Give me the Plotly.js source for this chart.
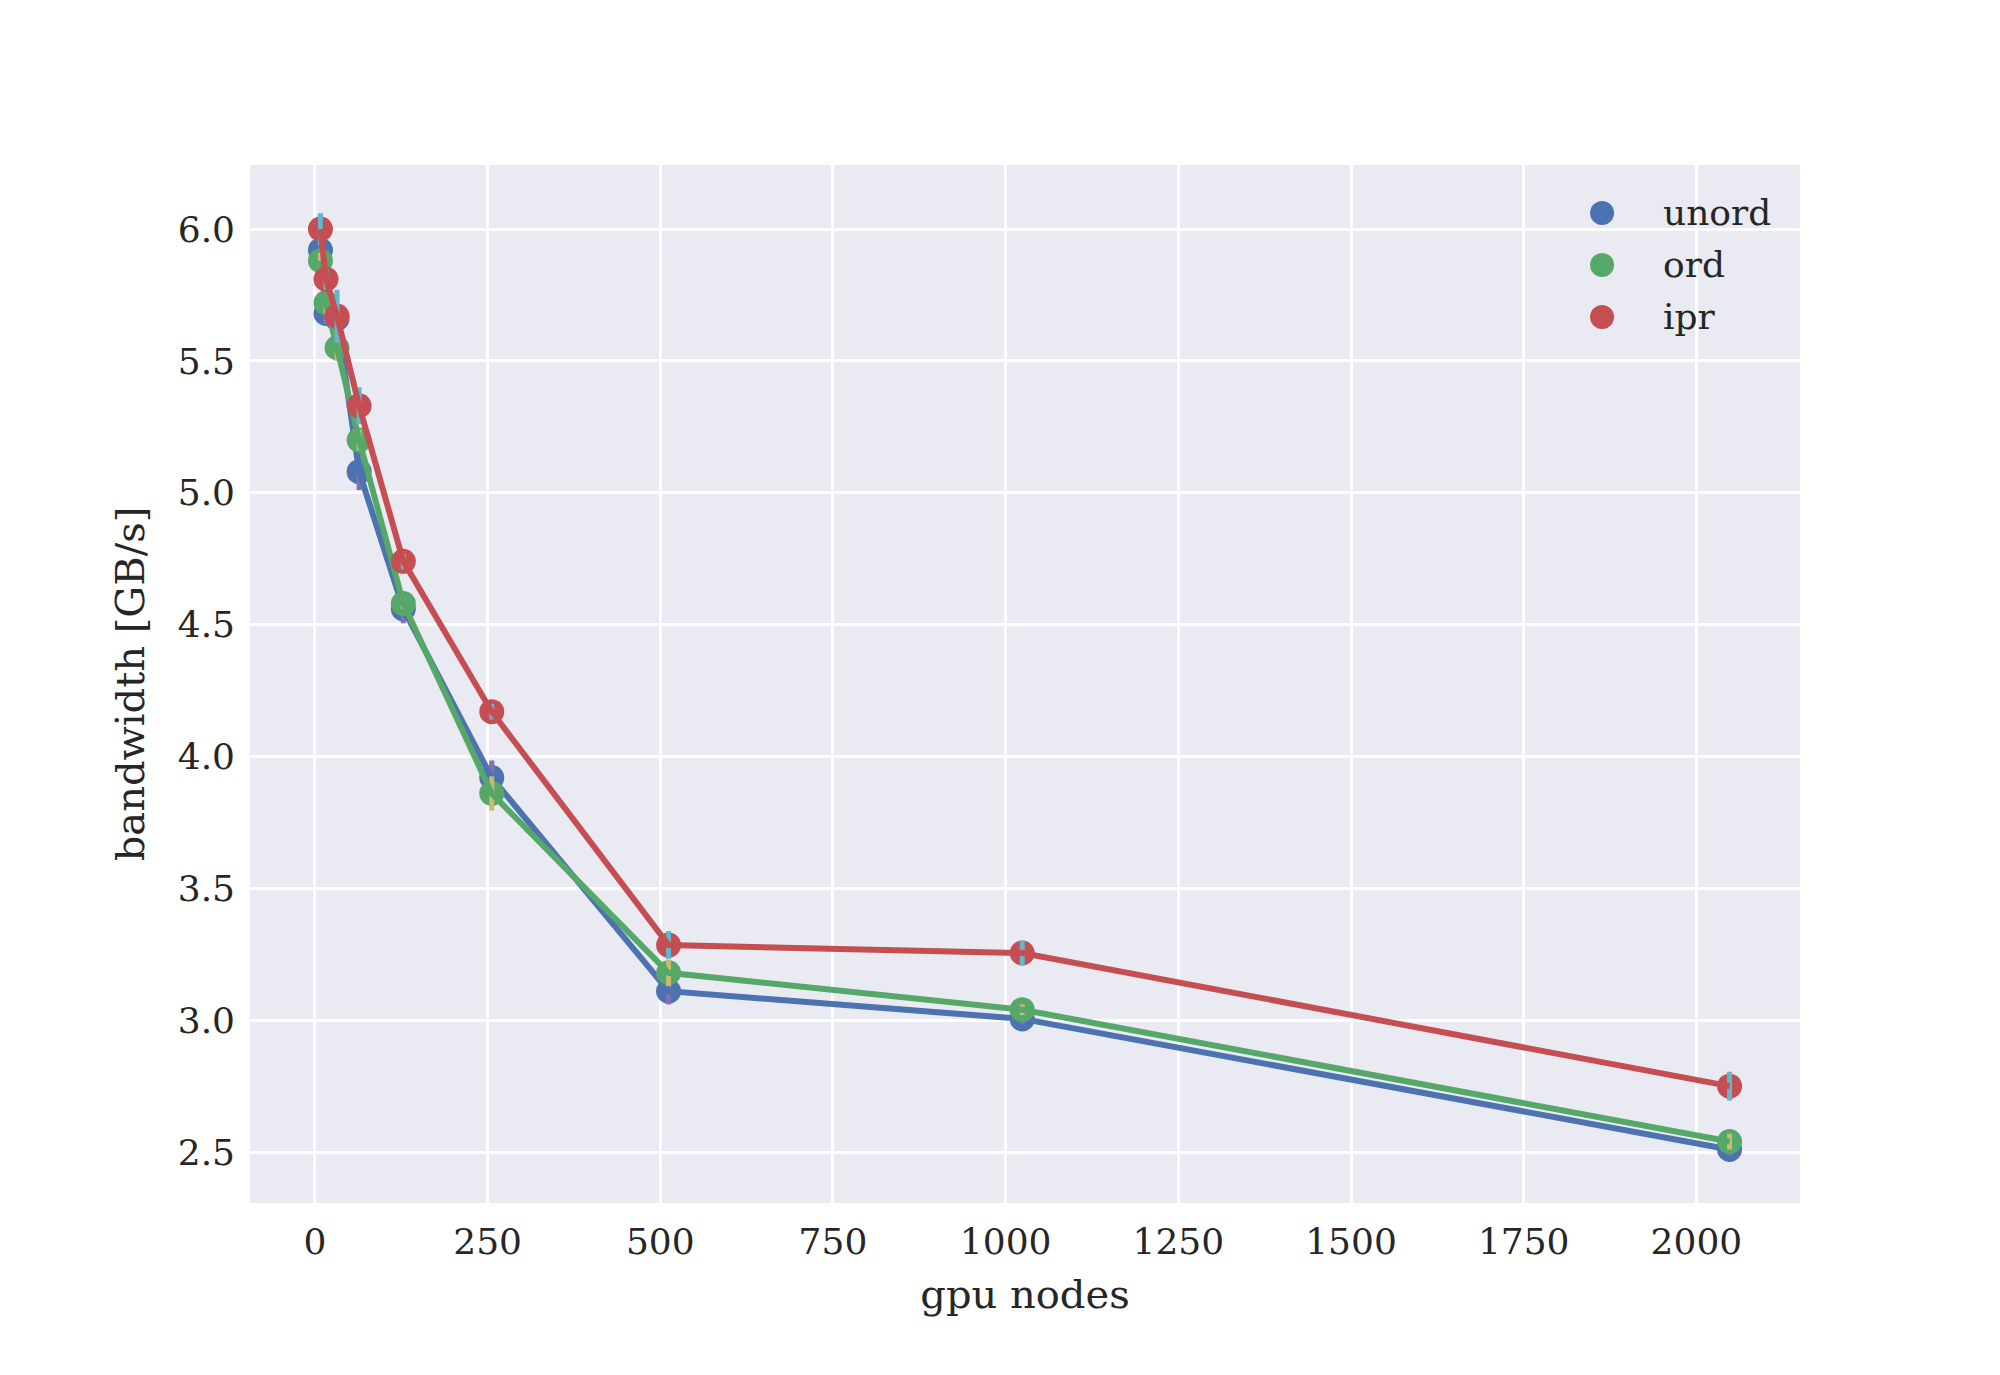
<!DOCTYPE html>
<html>
<head>
<meta charset="utf-8">
<script src="https://cdn.plot.ly/plotly-3.0.1.min.js"></script>
<style>
  html, body { margin: 0; padding: 0; background: #ffffff; }
  #graph { width: 2000px; height: 1375px; }
</style>
</head>
<body>
<div id="graph"></div>
<script>
// gpu node counts
const nodes = [8, 16, 32, 64, 128, 256, 512, 1024, 2048];

// bandwidth [GB/s] per variant
const unord = [5.92, 5.68, 5.66, 5.08, 4.56, 3.92, 3.11, 3.005, 2.51];
const ord   = [5.88, 5.72, 5.55, 5.20, 4.58, 3.86, 3.18, 3.04, 2.54];
const ipr   = [6.00, 5.81, 5.67, 5.33, 4.74, 4.17, 3.285, 3.255, 2.75];

// spread (error bar half length)
const unordErr = [0.03, 0.04, 0.05, 0.07, 0.055, 0.065, 0.05, 0.02, 0.023];
const ordErr   = [0.03, 0.04, 0.05, 0.04, 0.02, 0.065, 0.05, 0.02, 0.03];
const iprErr   = [0.06, 0.04, 0.10, 0.07, 0.03, 0.03, 0.053, 0.047, 0.055];

const seriesNames = ['unord', 'ord', 'ipr'];
const seriesValues = [unord, ord, ipr];
const seriesErrors = [unordErr, ordErr, iprErr];
const lineColors = ['#4C72B0', '#55A868', '#C44E52'];
const errColors = ['#8172B2', '#CCB974', '#64B5CD'];

const FONT = 'DejaVu Serif, Liberation Serif, serif';
const TEXT = '#262626';

function buildTraces() {
    const traces = [];
    for (let i = 0; i < seriesNames.length; i++) {
        traces.push({
            x: nodes,
            y: seriesValues[i],
            name: seriesNames[i],
            type: 'scatter',
            mode: 'markers',
            marker: { color: lineColors[i], size: 25 },
            hoverinfo: 'x+y+name'
        });
        traces.push({
            x: nodes,
            y: seriesValues[i],
            type: 'scatter',
            mode: 'markers',
            marker: { color: lineColors[i], size: 1, opacity: 0 },
            error_y: {
                type: 'data',
                array: seriesErrors[i],
                visible: true,
                color: errColors[i],
                thickness: 5,
                width: 0
            },
            hoverinfo: 'skip'
        });
        traces.push({
            x: nodes,
            y: seriesValues[i],
            type: 'scatter',
            mode: 'lines',
            line: { color: lineColors[i], width: 6 },
            hoverinfo: 'skip'
        });
    }
    return traces;
}

// legend drawn by hand so the dots can be as big as the ones in the plot
function buildLegend() {
    const shapes = [];
    const annotations = [];
    const rowY = [0.9538, 0.9037, 0.8536];
    for (let i = 0; i < seriesNames.length; i++) {
        shapes.push({
            type: 'circle',
            xref: 'paper', yref: 'paper',
            xsizemode: 'pixel', ysizemode: 'pixel',
            xanchor: 0.8723, yanchor: rowY[i],
            x0: -12, x1: 12, y0: -12, y1: 12,
            fillcolor: lineColors[i],
            line: { width: 0 }
        });
        annotations.push({
            xref: 'paper', yref: 'paper',
            x: 0.9105, y: rowY[i],
            xanchor: 'left', yanchor: 'middle',
            text: seriesNames[i],
            showarrow: false,
            font: { family: FONT, color: TEXT, size: 36 }
        });
    }
    return { shapes: shapes, annotations: annotations };
}

function draw() {
    const legend = buildLegend();
    const layout = {
        width: 2000,
        height: 1375,
        paper_bgcolor: '#ffffff',
        plot_bgcolor: '#EAEAF2',
        margin: { l: 250, r: 200, t: 165, b: 172 },
        font: { family: FONT, color: TEXT, size: 36 },
        showlegend: false,
        shapes: legend.shapes,
        annotations: legend.annotations,
        xaxis: {
            range: [-94, 2150],
            tickvals: [0, 250, 500, 750, 1000, 1250, 1500, 1750, 2000],
            showgrid: true,
            gridcolor: '#ffffff',
            gridwidth: 3,
            zeroline: false,
            showline: false,
            ticks: '',
            ticklabelstandoff: 14,
            tickfont: { family: FONT, color: TEXT, size: 36 },
            title: {
                text: 'gpu nodes',
                font: { family: FONT, color: TEXT, size: 40 },
                standoff: 18
            }
        },
        yaxis: {
            range: [2.307, 6.243],
            tickvals: [2.5, 3.0, 3.5, 4.0, 4.5, 5.0, 5.5, 6.0],
            ticktext: ['2.5', '3.0', '3.5', '4.0', '4.5', '5.0', '5.5', '6.0'],
            showgrid: true,
            gridcolor: '#ffffff',
            gridwidth: 3,
            zeroline: false,
            showline: false,
            ticks: '',
            ticklabelstandoff: 14,
            tickfont: { family: FONT, color: TEXT, size: 36 },
            title: {
                text: 'bandwidth [GB/s]',
                font: { family: FONT, color: TEXT, size: 40 },
                standoff: 20
            }
        }
    };

    Plotly.newPlot('graph', buildTraces(), layout, { displayModeBar: false, staticPlot: true });
}

window.addEventListener("load", draw, false);
</script>
</body>
</html>
